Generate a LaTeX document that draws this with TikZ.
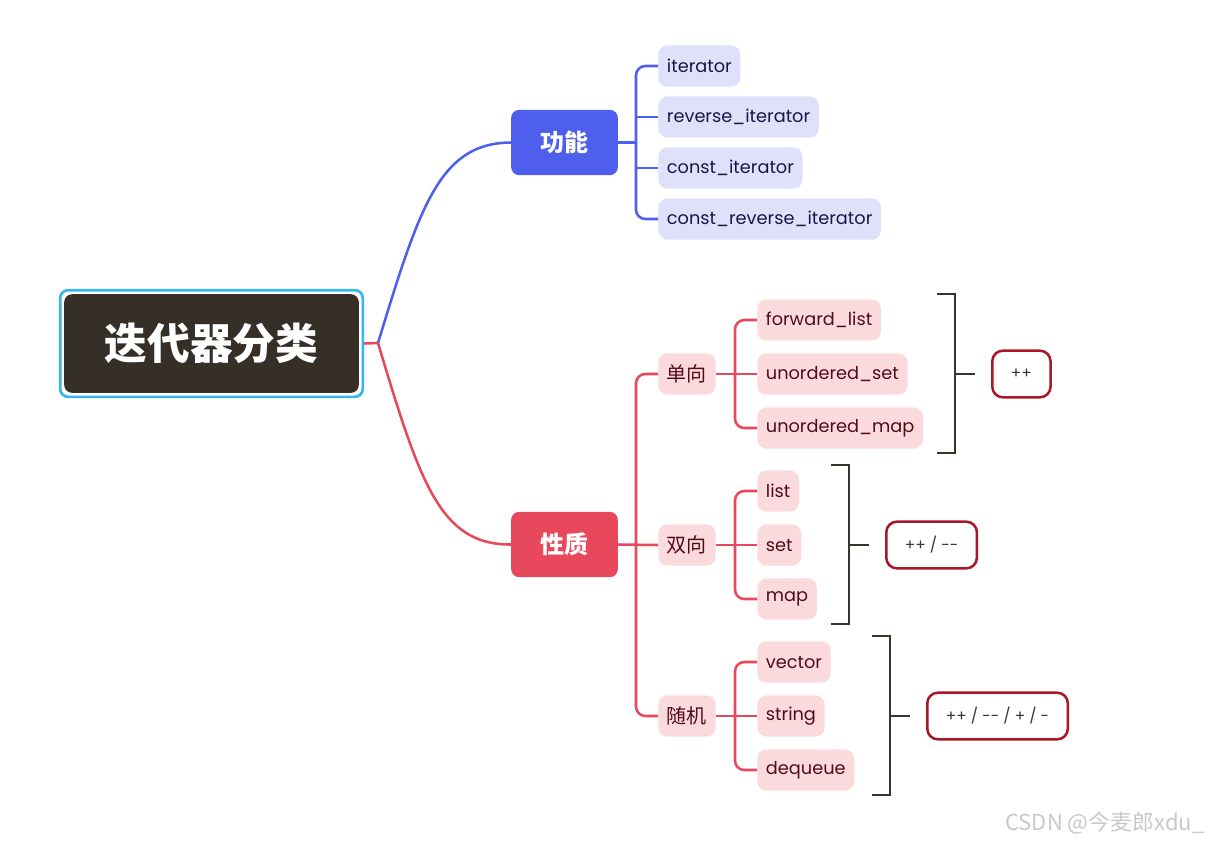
\documentclass[tikz,border=0pt]{standalone}
\usepackage{fontspec}
\setmainfont{Poppins}
\newfontfamily\cjk{Noto Sans CJK SC}
\usetikzlibrary{positioning}
\definecolor{funcblue}{RGB}{78, 95, 238}
\definecolor{funcfill}{RGB}{223, 225, 251}
\definecolor{functext}{RGB}{24, 24, 72}
\definecolor{proprred}{RGB}{232, 72, 92}
\definecolor{proprfill}{RGB}{251, 218, 222}
\definecolor{proprtext}{RGB}{82, 12, 22}
\definecolor{opred}{RGB}{168, 24, 40}
\definecolor{bracketgray}{RGB}{59, 52, 46}
\definecolor{rootdark}{RGB}{54, 47, 40}
\definecolor{rootsky}{RGB}{56, 182, 240}
\definecolor{markgray}{RGB}{200, 200, 200}

\begin{document}
\begin{tikzpicture}[
    x=0.75pt, y=-0.75pt,
    rootframe/.style={rectangle, rounded corners=6pt, draw=rootsky, line width=2pt, fill=white, minimum width=227pt, minimum height=80pt},
    rootbox/.style={rectangle, rounded corners=6pt, fill=rootdark, text=white, minimum width=221pt, minimum height=74pt, font=\cjk\bfseries\fontsize{32}{36}\selectfont},
    mainbox/.style={rectangle, rounded corners=6pt, fill=#1, text=white, minimum width=80pt, minimum height=49pt, font=\cjk\bfseries\fontsize{18}{22}\selectfont},
    leaf/.style={rectangle, rounded corners=7pt, fill=#1fill, text=#1text, anchor=west, inner xsep=6.5pt, minimum height=31pt, font=\fontsize{13.3}{16}\selectfont},
    cnleaf/.style={leaf=#1, font=\cjk\fontsize{15}{18}\selectfont},
    oplabel/.style={rectangle, rounded corners=8pt, draw=opred, line width=1.9pt, fill=white, text=bracketgray, inner xsep=14pt, minimum height=35pt, font=\fontsize{11.5}{13}\selectfont},
    branch/.style={line width=1.9pt, color=#1, rounded corners=7pt},
    bracketline/.style={line width=2.2pt, color=bracketgray}
]
\useasboundingbox (0,0) rectangle (1212,843);

% Root
\node[rootframe] (rootfr) at (211.5,343.5) {};
\node[rootbox] (root) at (211.5,343.5) {迭代器分类};
\coordinate (rj) at (378,343);

% Main branches
\node[mainbox=funcblue] (func) at (564.5,142.5) {功能};
\node[mainbox=proprred] (propr) at (564.5,544.5) {性质};

\draw[branch=proprred] (rootfr.east) -- (rj);
\draw[line width=1.9pt, funcblue] (rj) .. controls (420,205) and (440,143) .. (func.west);
\draw[line width=1.9pt, proprred] (rj) .. controls (420,483) and (440,545) .. (propr.west);

% Kinds by function
\node[leaf=func] (it) at (658,66) {iterator};
\node[leaf=func] (rit) at (658,117) {reverse\_iterator};
\node[leaf=func] (cit) at (658,168) {const\_iterator};
\node[leaf=func] (crit) at (658,219) {const\_reverse\_iterator};

\coordinate (funcsp) at (636,142.5);
\draw[branch=funcblue] (func.east) -- (funcsp);
\draw[branch=funcblue] (it.west) -| (funcsp) |- (crit.west);
\foreach \c in {rit,cit}
  \draw[branch=funcblue] (\c.west -| funcsp) -- (\c.west);

% Kinds by property
\node[cnleaf=propr] (uni) at (658,374) {单向};
\node[cnleaf=propr] (bi) at (658,545) {双向};
\node[cnleaf=propr] (rnd) at (658,716) {随机};

\coordinate (proprsp) at (636,544.5);
\draw[branch=proprred] (propr.east) -- (bi.west);
\draw[branch=proprred] (uni.west) -| (proprsp) |- (rnd.west);

% Containers
\node[leaf=propr] (flist) at (757,320) {forward\_list};
\node[leaf=propr] (uset) at (757,374) {unordered\_set};
\node[leaf=propr] (umap) at (757,428) {unordered\_map};
\node[leaf=propr] (list) at (757,491) {list};
\node[leaf=propr] (set) at (757,545) {set};
\node[leaf=propr] (map) at (757,599) {map};
\node[leaf=propr] (vec) at (757,662) {vector};
\node[leaf=propr] (str) at (757,716) {string};
\node[leaf=propr] (deq) at (757,770) {dequeue};

\coordinate (unisp) at (735,374);
\coordinate (bisp) at (735,545);
\coordinate (rndsp) at (735,716);
\draw[branch=proprred] (uni.east) -- (uset.west);
\draw[branch=proprred] (flist.west) -| (unisp) |- (umap.west);
\draw[branch=proprred] (bi.east) -- (set.west);
\draw[branch=proprred] (list.west) -| (bisp) |- (map.west);
\draw[branch=proprred] (rnd.east) -- (str.west);
\draw[branch=proprred] (vec.west) -| (rndsp) |- (deq.west);

% Brackets and operators
\coordinate (bk1top) at (937,294);
\coordinate (bk1bot) at (937,453);
\coordinate (bk1mid) at (955,374);
\coordinate (bk2top) at (831,465);
\coordinate (bk2bot) at (831,624);
\coordinate (bk2mid) at (849,545);
\coordinate (bk3top) at (872,636);
\coordinate (bk3bot) at (872,795);
\coordinate (bk3mid) at (890,716);

\draw[bracketline] (bk1top) -- ++(18,0) |- (bk1bot);
\draw[bracketline] (bk2top) -- ++(18,0) |- (bk2bot);
\draw[bracketline] (bk3top) -- ++(18,0) |- (bk3bot);
\draw[bracketline] (bk1mid) -- ++(20,0);
\draw[bracketline] (bk2mid) -- ++(20,0);
\draw[bracketline] (bk3mid) -- ++(20,0);

\node[oplabel, right=27pt of bk1mid] (op1) {++};
\node[oplabel, right=27pt of bk2mid] (op2) {++ / -{}-};
\node[oplabel, right=27pt of bk3mid] (op3) {++ / -{}- / + / -};

% Watermark
\node[text=markgray, font=\cjk\fontsize{16.5}{19}\selectfont] (mark) at (1105,823) {CSDN @今麦郎xdu\_};
\end{tikzpicture}
\end{document}
